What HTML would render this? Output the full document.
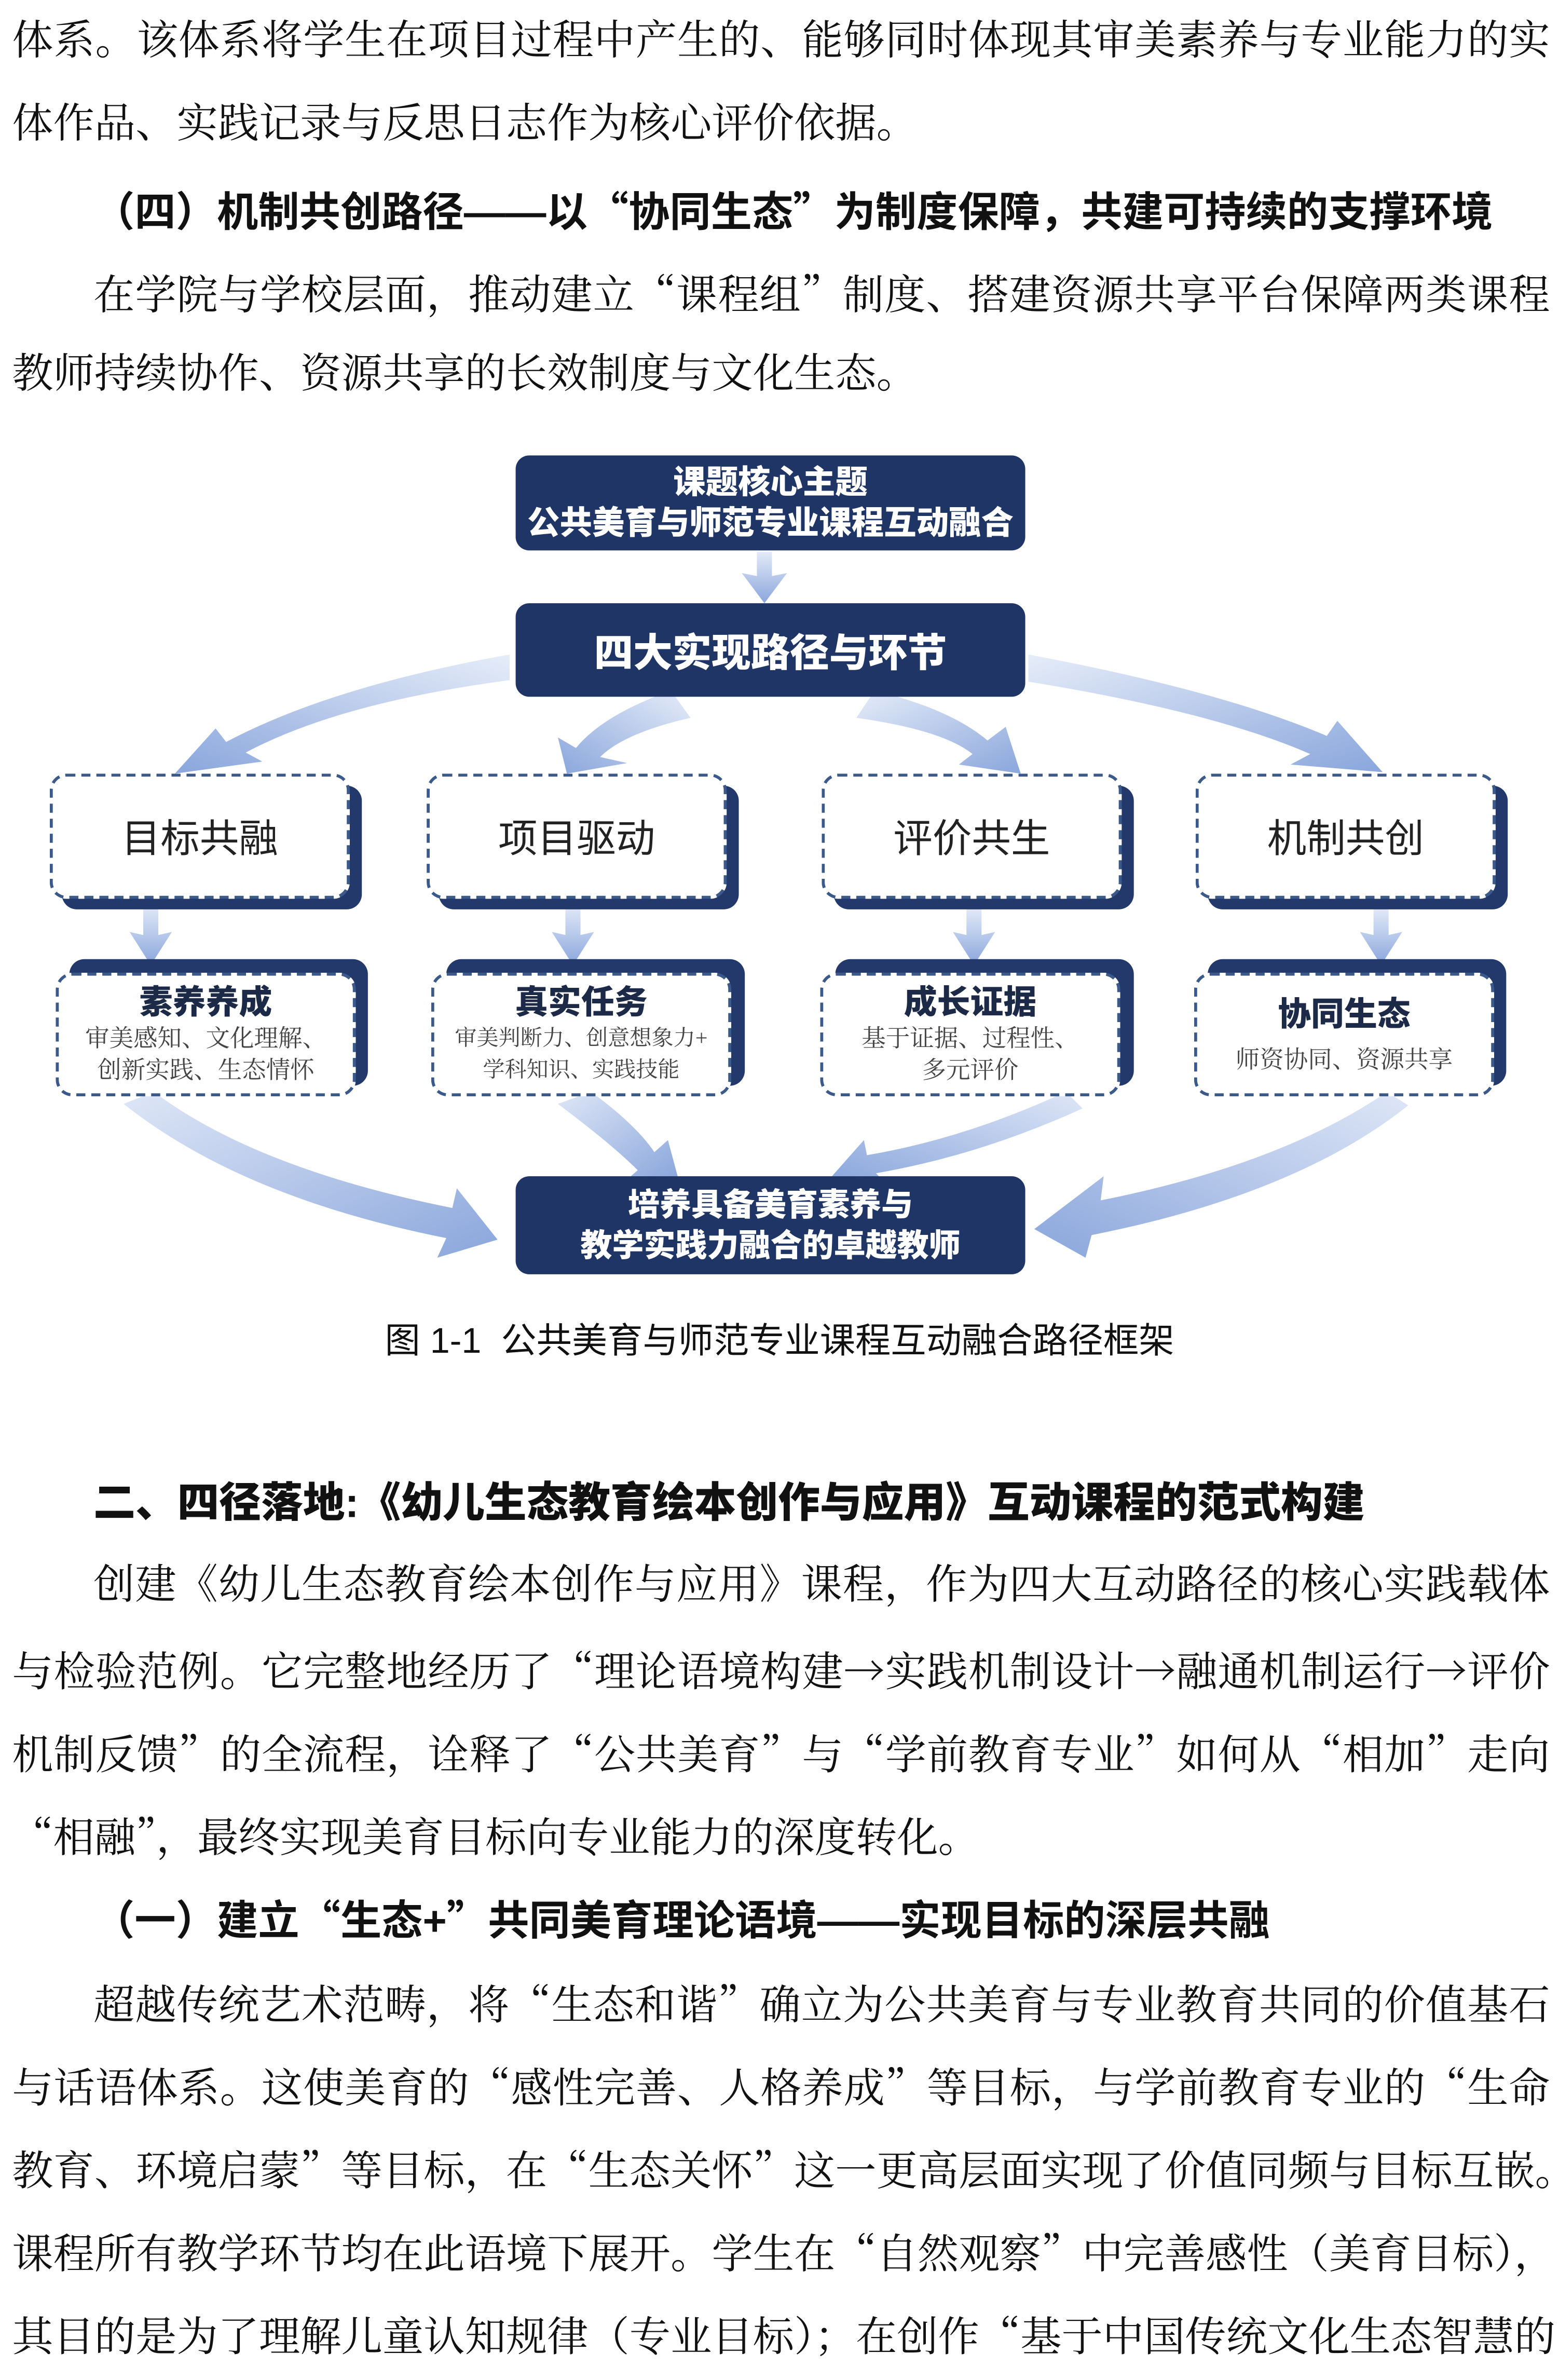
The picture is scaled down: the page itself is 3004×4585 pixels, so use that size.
<!DOCTYPE html>
<html><head><meta charset="utf-8">
<style>
html,body{margin:0;padding:0;background:#fff;}
body{width:3004px;height:4546px;overflow:hidden;position:relative;}
#w{position:absolute;left:0;top:0;width:1034px;height:1565px;transform:scale(2.9052);transform-origin:0 0;}
.t{position:absolute;left:8px;width:1020px;font-family:"Liberation Serif","Noto Serif CJK SC",serif;font-size:27.3px;line-height:55.3px;color:#111;text-align:justify;text-align-last:justify;white-space:nowrap;}
.t.l{text-align-last:left;}
.t q,.t i{quotes:none;font-style:normal;font-family:"Noto Serif CJK SC",serif;}
.h{position:absolute;font-family:"Liberation Sans","Noto Sans CJK SC",sans-serif;font-weight:bold;font-size:26px;line-height:55px;color:#111;white-space:nowrap;}
.h i{font-style:normal;font-family:"Noto Sans CJK SC",sans-serif;}
.nb{position:absolute;background:#1f3566;border-radius:9px;color:#fff;font-family:"Liberation Sans","Noto Sans CJK SC",sans-serif;font-weight:900;text-align:center;display:flex;align-items:center;justify-content:center;flex-direction:column;}
.sh{position:absolute;background:#24396b;border-radius:10px;}
.db{position:absolute;background:#fff;border:2.5px dashed #3b5a8a;border-radius:11px;box-sizing:border-box;display:flex;flex-direction:column;align-items:center;justify-content:center;font-family:"Liberation Sans","Noto Sans CJK SC",sans-serif;color:#222;text-align:center;}
.db .a{font-size:26px;}
.db .b{font-size:22px;font-weight:900;color:#1c2a48;line-height:28px;}
.db .c{font-size:16px;color:#444;line-height:21px;font-family:"Liberation Serif","Noto Serif CJK SC",serif;}
</style></head><body><div id="w">
<div class="t" style="top:0">体系。该体系将学生在项目过程中产生的、能够同时体现其审美素养与专业能力的实</div>
<div class="t l" style="top:55px">体作品、实践记录与反思日志作为核心评价依据。</div>
<div class="h" style="top:111px;left:62px;font-size:27.3px;font-weight:600">（四）机制共创路径——以<i>“</i>协同生态<i>”</i>为制度保障，共建可持续的支撑环境</div>
<div class="t" style="top:166px;left:62px;width:966px">在学院与学校层面，推动建立<i>“</i>课程组<i>”</i>制度、搭建资源共享平台保障两类课程</div>
<div class="t l" style="top:221px">教师持续协作、资源共享的长效制度与文化生态。</div>

<svg style="position:absolute;left:0;top:0" width="1034" height="900" viewBox="0 0 1034 900">
<defs>
<linearGradient id="g1" x1="1" y1="0" x2="0" y2="1"><stop offset="0" stop-color="#e6edf9"/><stop offset="1" stop-color="#8aa6dc"/></linearGradient>
<linearGradient id="g2" x1="0" y1="0" x2="1" y2="1"><stop offset="0" stop-color="#e6edf9"/><stop offset="1" stop-color="#8aa6dc"/></linearGradient>
<linearGradient id="gd" x1="0" y1="0" x2="0" y2="1"><stop offset="0" stop-color="#e3eaf8"/><stop offset="1" stop-color="#8aa6dc"/></linearGradient>
<linearGradient id="gb1" x1="0" y1="0" x2="1" y2="1"><stop offset="0" stop-color="#dfe7f7"/><stop offset="1" stop-color="#8aa6dc"/></linearGradient>
<linearGradient id="gb2" x1="1" y1="0" x2="0" y2="1"><stop offset="0" stop-color="#dfe7f7"/><stop offset="1" stop-color="#8aa6dc"/></linearGradient>
</defs>
<path d="M502 366 L512 366 L512 382 L522 380 L507 400 L492 380 L502 382 Z" fill="url(#gd)"/>
<path d="M338 434 Q220 455 150 492 L143 483 L116 513 L174 505 L163 499 Q225 466 338 451 Z" fill="url(#g1)"/>
<path d="M445 458 Q400 474 382 496 L370 489 L376 513 L416 506 L398 502 Q414 486 458 476 Z" fill="url(#g1)"/>
<path d="M580 458 Q630 470 655 491 L667 482 L677 513 L636 507 L645 500 Q625 484 568 476 Z" fill="url(#g2)"/>
<path d="M682 434 Q810 458 880 488 L887 478 L917 512 L856 507 L869 500 Q805 472 682 452 Z" fill="url(#g2)"/>
<g fill="url(#gd)">
<path d="M95 600 L105 600 L105 620 L114 618 L100 640 L86 618 L95 620 Z"/>
<path d="M375 600 L385 600 L385 620 L394 618 L380 640 L366 618 L375 620 Z"/>
<path d="M641 602 L651 602 L651 620 L660 618 L646 640 L632 618 L641 620 Z"/>
<path d="M911 602 L921 602 L921 620 L930 618 L916 640 L902 618 L911 620 Z"/>
</g>
<path d="M102 724 Q170 775 300 801 L303 788 L330 822 L290 834 L296 821 Q160 794 82 732 Z" fill="url(#gb1)"/>
<path d="M392 724 Q422 746 434 764 L443 756 L450 782 L416 782 L423 776 Q406 759 370 732 Z" fill="url(#gb1)"/>
<path d="M707 724 Q640 755 575 766 L573 756 L550 782 L588 785 L581 778 Q650 766 718 735 Z" fill="url(#gb2)"/>
<path d="M920 724 Q850 772 730 796 L732 780 L686 815 L720 834 L724 819 Q860 792 934 733 Z" fill="url(#gb2)"/>
</svg>

<div class="nb" style="left:342px;top:302px;width:338px;height:63px;font-size:21.5px;line-height:27px;">课题核心主题<br>公共美育与师范专业课程互动融合</div>
<div class="nb" style="left:342px;top:400px;width:338px;height:62px;font-size:26px;">四大实现路径与环节</div>

<div class="sh" style="left:41px;top:521px;width:199px;height:82px"></div>
<div class="db" style="left:33px;top:513px;width:199px;height:83px"><div class="a">目标共融</div></div>
<div class="sh" style="left:291px;top:521px;width:199px;height:82px"></div>
<div class="db" style="left:283px;top:513px;width:199px;height:83px"><div class="a">项目驱动</div></div>
<div class="sh" style="left:553px;top:521px;width:199px;height:82px"></div>
<div class="db" style="left:545px;top:513px;width:199px;height:83px"><div class="a">评价共生</div></div>
<div class="sh" style="left:801px;top:521px;width:199px;height:82px"></div>
<div class="db" style="left:793px;top:513px;width:199px;height:83px"><div class="a">机制共创</div></div>

<div class="sh" style="left:46px;top:636px;width:198px;height:84px"></div>
<div class="db" style="left:37px;top:645px;width:199px;height:82px"><div class="b">素养养成</div><div class="c">审美感知、文化理解、<br>创新实践、生态情怀</div></div>
<div class="sh" style="left:296px;top:636px;width:198px;height:84px"></div>
<div class="db" style="left:286px;top:645px;width:199px;height:82px"><div class="b">真实任务</div><div class="c" style="font-size:14.5px">审美判断力、创意想象力+<br>学科知识、实践技能</div></div>
<div class="sh" style="left:554px;top:636px;width:198px;height:84px"></div>
<div class="db" style="left:544px;top:645px;width:199px;height:82px"><div class="b">成长证据</div><div class="c">基于证据、过程性、<br>多元评价</div></div>
<div class="sh" style="left:801px;top:636px;width:198px;height:84px"></div>
<div class="db" style="left:792px;top:645px;width:199px;height:82px"><div class="b">协同生态</div><div class="c" style="margin-top:6px">师资协同、资源共享</div></div>

<div class="nb" style="left:342px;top:780px;width:338px;height:65px;font-size:21px;line-height:27px;">培养具备美育素养与<br>教学实践力融合的卓越教师</div>

<div style="position:absolute;left:0;width:1034px;top:870px;text-align:center;font-family:'Liberation Sans','Noto Sans CJK SC',sans-serif;font-size:23.5px;color:#111;">图 1-1&nbsp; 公共美育与师范专业课程互动融合路径框架</div>

<div class="h" style="top:969px;left:62px;font-size:27.8px;font-weight:900">二、四径落地:《幼儿生态教育绘本创作与应用》互动课程的范式构建</div>
<div class="t" style="top:1024px;left:62px;width:966px">创建《幼儿生态教育绘本创作与应用》课程，作为四大互动路径的核心实践载体</div>
<div class="t" style="top:1079px">与检验范例。它完整地经历了<i>“</i>理论语境构建<i>→</i>实践机制设计<i>→</i>融通机制运行<i>→</i>评价</div>
<div class="t" style="top:1134px">机制反馈<i>”</i>的全流程，诠释了<i>“</i>公共美育<i>”</i>与<i>“</i>学前教育专业<i>”</i>如何从<i>“</i>相加<i>”</i>走向</div>
<div class="t l" style="top:1189px"><i>“</i>相融<i>”</i>，最终实现美育目标向专业能力的深度转化。</div>
<div class="h" style="top:1244px;left:62px;font-size:27.3px;font-weight:600">（一）建立<i>“</i>生态+<i>”</i>共同美育理论语境——实现目标的深层共融</div>
<div class="t" style="top:1300px;left:62px;width:966px">超越传统艺术范畴，将<i>“</i>生态和谐<i>”</i>确立为公共美育与专业教育共同的价值基石</div>
<div class="t" style="top:1355px">与话语体系。这使美育的<i>“</i>感性完善、人格养成<i>”</i>等目标，与学前教育专业的<i>“</i>生命</div>
<div class="t" style="top:1410px">教育、环境启蒙<i>”</i>等目标，在<i>“</i>生态关怀<i>”</i>这一更高层面实现了价值同频与目标互嵌。</div>
<div class="t" style="top:1465px">课程所有教学环节均在此语境下展开。学生在<i>“</i>自然观察<i>”</i>中完善感性（美育目标），</div>
<div class="t" style="top:1520px">其目的是为了理解儿童认知规律（专业目标）；在创作<i>“</i>基于中国传统文化生态智慧的</div>
</div></body></html>
